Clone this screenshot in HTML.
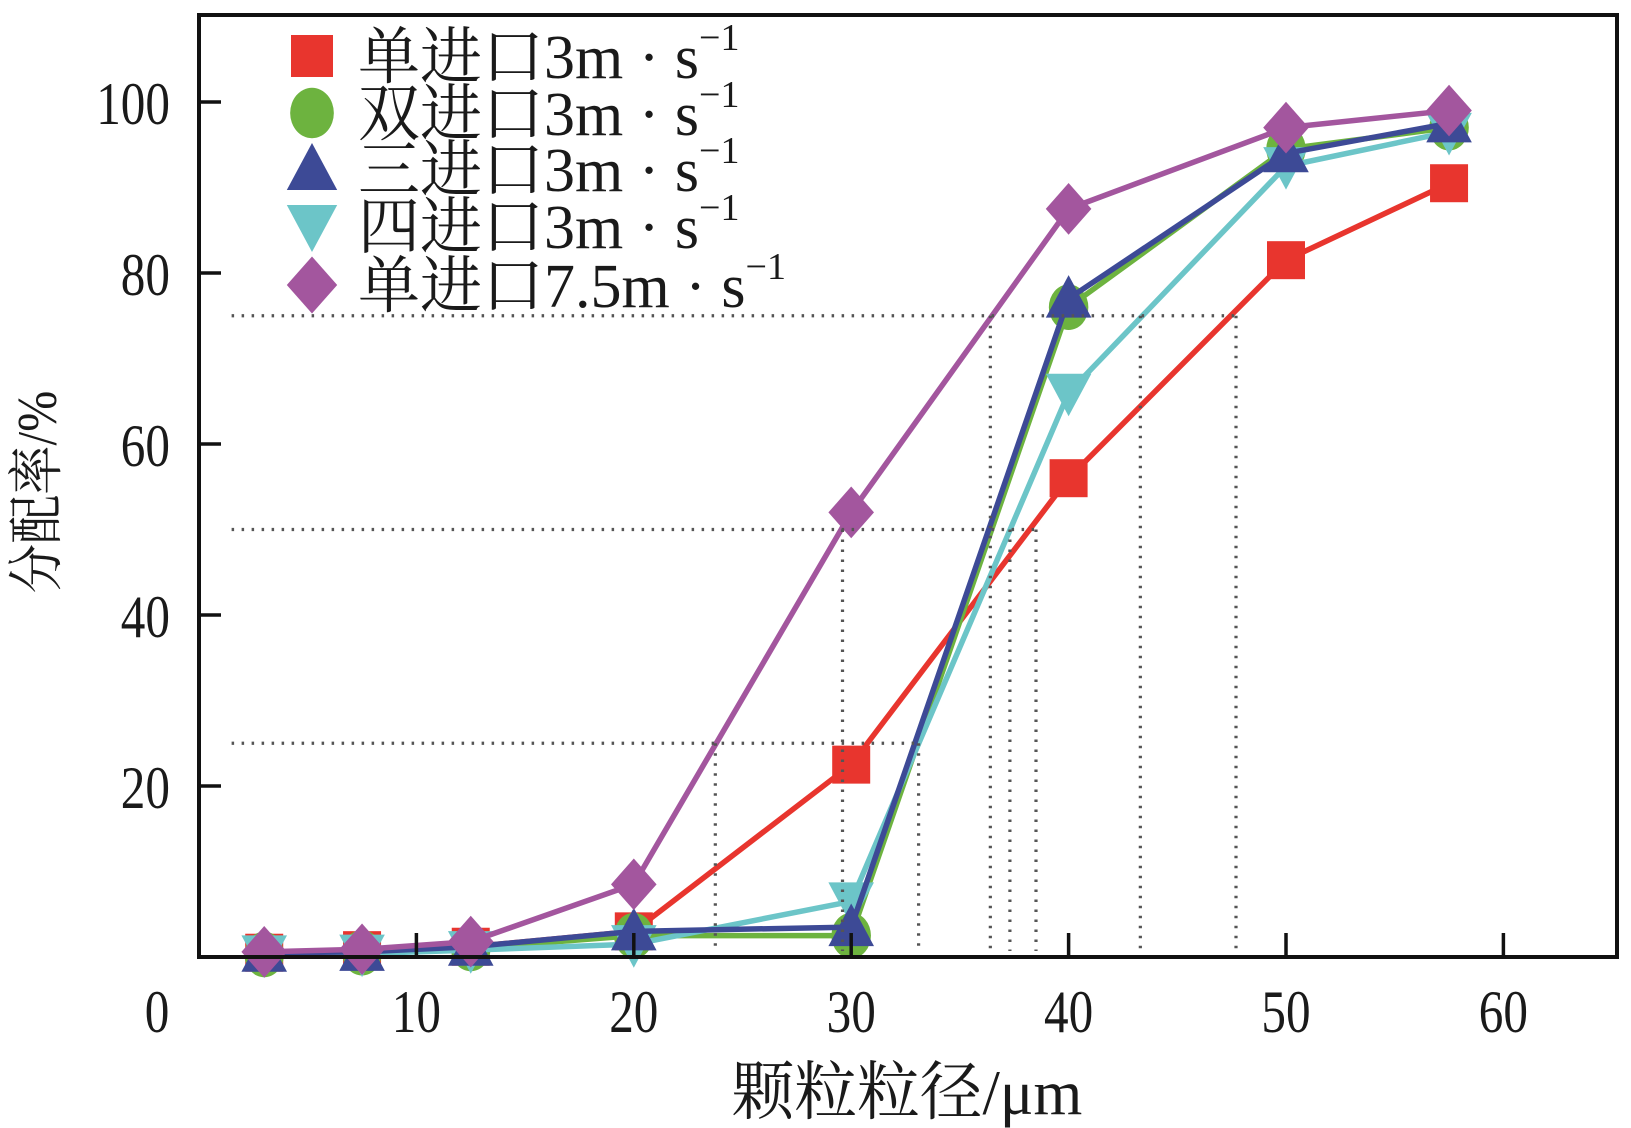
<!DOCTYPE html>
<html><head><meta charset="utf-8"><style>
html,body{margin:0;padding:0;background:#fff;}
svg{display:block;}
text{font-family:"Liberation Serif","Noto Serif CJK SC",serif;fill:#1a1a1a;}
</style></head><body>
<svg id="chart" width="1631" height="1128" viewBox="0 0 1631 1128" xmlns="http://www.w3.org/2000/svg">
<g id="series-layer"></g>
<g id="guide-layer"></g>
<g id="axis-layer"></g>
<g id="legend-layer"></g>
</svg>
<script>
const xValues = [3, 7.5, 12.5, 20, 30, 40, 50, 57.5];
const seriesNames = ["单进口3m・s⁻¹","双进口3m・s⁻¹","三进口3m・s⁻¹","四进口3m・s⁻¹","单进口7.5m・s⁻¹"];
const redValues = [0.5, 0.8, 1.2, 3, 22.5, 56, 81.5, 90.5];
const greenValues = [0.3, 0.5, 1, 2.5, 2.5, 76, 94.5, 97];
const blueValues = [0.5, 0.6, 1.2, 3, 3.5, 77, 94, 97.5];
const cyanValues = [0.3, 0.4, 0.8, 1.5, 6.5, 66, 92.5, 96.5];
const purpleValues = [0.6, 0.9, 1.8, 8.5, 52, 87.5, 97, 99];
const xTicks = [0, 10, 20, 30, 40, 50, 60];
const yTicks = [20, 40, 60, 80, 100];
const guideLevels = [75, 50, 25];
const guideEnds = [47.7, 38.5, 33.1];
const verticalX = [23.75, 29.6, 33.1, 36.4, 37.3, 38.5, 43.3, 47.7];
const verticalTop = [25, 50, 25, 75, 50, 50, 75, 75];

const NS = "http://www.w3.org/2000/svg";
const X0 = 199, XS = 21.74, Y0 = 957, YS = 8.55;
const L = 199, R = 1617, T = 15, B = 957;
function sx(v){ return X0 + v * XS; }
function sy(v){ return Y0 - v * YS; }
function mk(tag, attrs, parent){ const e = document.createElementNS(NS, tag); for (const k in attrs) e.setAttribute(k, attrs[k]); parent.appendChild(e); return e; }

const sLayer = document.getElementById('series-layer');
const gLayer = document.getElementById('guide-layer');
const aLayer = document.getElementById('axis-layer');
const lLayer = document.getElementById('legend-layer');

function marker(type, cx, cy, color, parent, s){
  let el;
  if (type === 'square') el = mk('rect', {x: cx - s*0.5, y: cy - s*0.5, width: s, height: s, fill: color}, parent);
  else if (type === 'circle') el = mk('ellipse', {cx: cx, cy: cy, rx: s*0.52, ry: s*0.6, fill: color}, parent);
  else if (type === 'up') el = mk('polygon', {points: `${cx},${cy - s*0.62} ${cx - s*0.6},${cy + s*0.5} ${cx + s*0.6},${cy + s*0.5}`, fill: color}, parent);
  else if (type === 'down') el = mk('polygon', {points: `${cx - s*0.6},${cy - s*0.5} ${cx + s*0.6},${cy - s*0.5} ${cx},${cy + s*0.62}`, fill: color}, parent);
  else el = mk('polygon', {points: `${cx},${cy - s*0.68} ${cx + s*0.6},${cy} ${cx},${cy + s*0.68} ${cx - s*0.6},${cy}`, fill: color}, parent);
  return el;
}

const allSeries = [
  {vals: redValues, color: '#e8352e', type: 'square', key: 'single-inlet-3'},
  {vals: greenValues, color: '#6db33f', type: 'circle', key: 'double-inlet-3'},
  {vals: cyanValues, color: '#6cc5c8', type: 'down', key: 'four-inlet-3'},
  {vals: blueValues, color: '#3d4a96', type: 'up', key: 'triple-inlet-3'},
  {vals: purpleValues, color: '#a3569e', type: 'diamond', key: 'single-inlet-7-5'}
];
allSeries.forEach(s => {
  const g = mk('g', {}, sLayer);
  
  
  const pts = xValues.map((x, i) => sx(x) + ',' + sy(s.vals[i])).join(' ');
  const line = mk('polyline', {points: pts, fill: 'none', stroke: s.color, 'stroke-width': 5.5, 'stroke-linejoin': 'round'}, g);
  
  
  xValues.forEach((x, i) => {
    const m = marker(s.type, sx(x), sy(s.vals[i]), s.color, g, 38);
    
    
  });
});

guideLevels.forEach((lv, i) => {
  const ln = mk('line', {x1: sx(1.5), y1: sy(lv), x2: sx(guideEnds[i]), y2: sy(lv), stroke: '#555', 'stroke-width': 3.2, 'stroke-dasharray': '2.5 7.5'}, gLayer);
  
  
});
verticalX.forEach((vx, i) => {
  const ln = mk('line', {x1: sx(vx), y1: sy(verticalTop[i]), x2: sx(vx), y2: B - 6, stroke: '#555', 'stroke-width': 3.2, 'stroke-dasharray': '2.5 7.5'}, gLayer);
  
  
});

const frame = mk('rect', {x: L, y: T, width: R - L, height: B - T, fill: 'none', stroke: '#111', 'stroke-width': 4}, aLayer);


xTicks.forEach(t => {
  let lx = sx(t);
  if (t > 0) {
    const tk = mk('line', {x1: sx(t), y1: B, x2: sx(t), y2: B - 24, stroke: '#111', 'stroke-width': 3.5}, aLayer);
    
    
  } else {
    lx = 157;
  }
  const tx = mk('text', {x: lx, y: 1032, 'text-anchor': 'middle', 'font-size': 60, transform: `translate(${lx},0) scale(0.82,1) translate(${-lx},0)`}, aLayer);
  tx.textContent = t;
  
  
});
yTicks.forEach(t => {
  const tk = mk('line', {x1: L, y1: sy(t), x2: L + 22, y2: sy(t), stroke: '#111', 'stroke-width': 3.5}, aLayer);
  
  
  const tx = mk('text', {x: 170, y: sy(t) + 22, 'text-anchor': 'end', 'font-size': 60, transform: `translate(170,0) scale(0.82,1) translate(-170,0)`}, aLayer);
  tx.textContent = t;
  
  
});
const xt = mk('text', {x: 907, y: 1114, 'text-anchor': 'middle', 'font-size': 64, transform: 'translate(907,0) scale(0.98,1) translate(-907,0)'}, aLayer);
xt.textContent = '颗粒粒径/μm';


const yt = mk('text', {x: 0, y: 0, 'text-anchor': 'middle', 'font-size': 56, transform: 'translate(56,492) rotate(-90) scale(0.88,1)'}, aLayer);
yt.textContent = '分配率/%';



const legendTypes = ['square','circle','up','down','diamond'];
const legendColors = ['#e8352e','#6db33f','#3d4a96','#6cc5c8','#a3569e'];
const legendY = [56, 113, 169, 226, 285];
seriesNames.forEach((name, i) => {
  const g = mk('g', {}, lLayer);
  
  
  marker(legendTypes[i], 312, legendY[i], legendColors[i], g, 42);
  const base = name.replace('・s⁻¹', '');
  const tx = mk('text', {x: 358, y: legendY[i] + 22, 'font-size': 62, 'xml:space': 'preserve'}, g);
  tx.textContent = base + '  ·  s';
  const sup = mk('tspan', {dy: -28, 'font-size': 38}, tx);
  sup.textContent = '−1';
});
</script>
</body></html>
